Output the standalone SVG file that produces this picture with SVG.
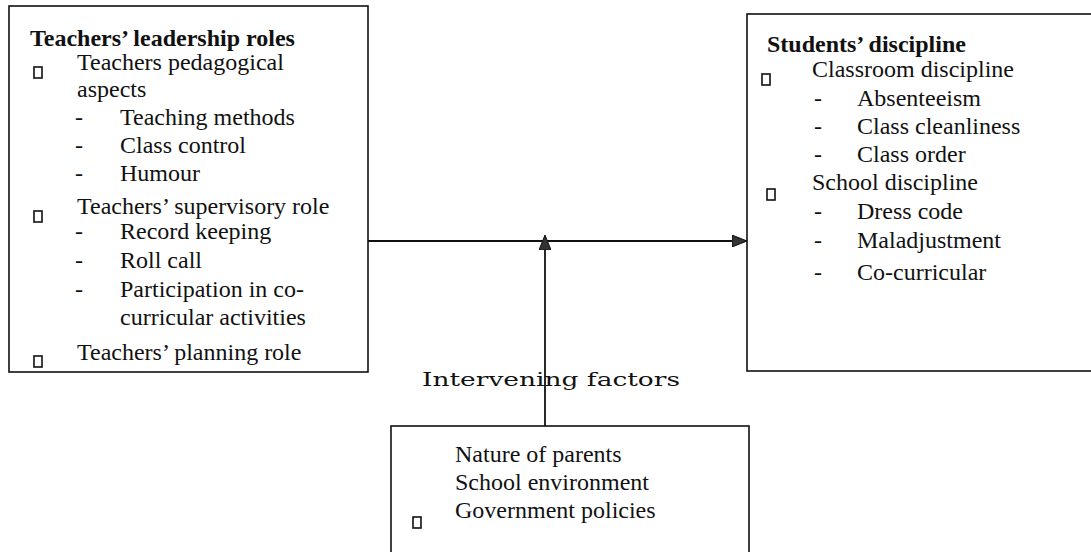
<svg xmlns="http://www.w3.org/2000/svg" width="1091" height="552" viewBox="0 0 1091 552">
<style>
.box{fill:none;stroke:#111;stroke-width:1.6}
.t{font-family:"Liberation Serif","Times New Roman",serif;font-size:24px;fill:#111}
.b{font-weight:bold}
.bul{fill:none;stroke:#111;stroke-width:1.6}
.ln{stroke:#111;stroke-width:1.8;fill:none}
.lbl{font-family:"DejaVu Serif",serif;font-size:19px;fill:#111}
</style>
<defs>
<marker id="ah" viewBox="0 0 15 12" refX="14" refY="6" markerWidth="15" markerHeight="12" markerUnits="userSpaceOnUse" orient="auto">
<path d="M0,0 L15,6 L0,12 Z" fill="#333" stroke="#111" stroke-width="1"/>
</marker>
</defs>
<rect width="1091" height="552" fill="#fff"/>
<g id="connectors">
<line class="ln" x1="368" y1="241" x2="746" y2="241" marker-end="url(#ah)"/>
<line class="ln" x1="545" y1="426" x2="545" y2="236" marker-end="url(#ah)"/>
<text class="lbl" x="422" y="386" textLength="258" lengthAdjust="spacingAndGlyphs">Intervening factors</text>
</g>
<g id="leadership">
<rect class="box" x="9" y="6" width="359" height="366"/>
<text class="t b" x="30" y="46">Teachers’ leadership roles</text>
<rect class="bul" x="34" y="67" width="8" height="11"/>
<text class="t" x="77" y="70">Teachers pedagogical</text>
<text class="t" x="77" y="97">aspects</text>
<text class="t" x="75" y="125">-</text><text class="t" x="120" y="125">Teaching methods</text>
<text class="t" x="75" y="153">-</text><text class="t" x="120" y="153">Class control</text>
<text class="t" x="75" y="181">-</text><text class="t" x="120" y="181">Humour</text>
<rect class="bul" x="34" y="211" width="8" height="11"/>
<text class="t" x="77" y="214">Teachers’ supervisory role</text>
<text class="t" x="75" y="239">-</text><text class="t" x="120" y="239">Record keeping</text>
<text class="t" x="75" y="268">-</text><text class="t" x="120" y="268">Roll call</text>
<text class="t" x="75" y="297">-</text><text class="t" x="120" y="297">Participation in co-</text>
<text class="t" x="120" y="325">curricular activities</text>
<rect class="bul" x="34" y="356" width="8" height="11"/>
<text class="t" x="77" y="360">Teachers’ planning role</text>
</g>
<g id="discipline">
<rect class="box" x="747" y="14" width="360" height="357"/>
<text class="t b" x="767" y="52">Students’ discipline</text>
<rect class="bul" x="762" y="74" width="8" height="11"/>
<text class="t" x="812" y="77">Classroom discipline</text>
<text class="t" x="814" y="106">-</text><text class="t" x="857" y="106">Absenteeism</text>
<text class="t" x="814" y="134">-</text><text class="t" x="857" y="134">Class cleanliness</text>
<text class="t" x="814" y="162">-</text><text class="t" x="857" y="162">Class order</text>
<rect class="bul" x="767" y="189" width="8" height="11"/>
<text class="t" x="812" y="190">School discipline</text>
<text class="t" x="814" y="219">-</text><text class="t" x="857" y="219">Dress code</text>
<text class="t" x="814" y="248">-</text><text class="t" x="857" y="248">Maladjustment</text>
<text class="t" x="814" y="280">-</text><text class="t" x="857" y="280">Co-curricular</text>
</g>
<g id="intervening">
<rect class="box" x="391" y="426" width="358" height="140"/>
<text class="t" x="455" y="462">Nature of parents</text>
<text class="t" x="455" y="490">School environment</text>
<rect class="bul" x="413" y="517" width="8" height="11"/>
<text class="t" x="455" y="518">Government policies</text>
</g>
</svg>
